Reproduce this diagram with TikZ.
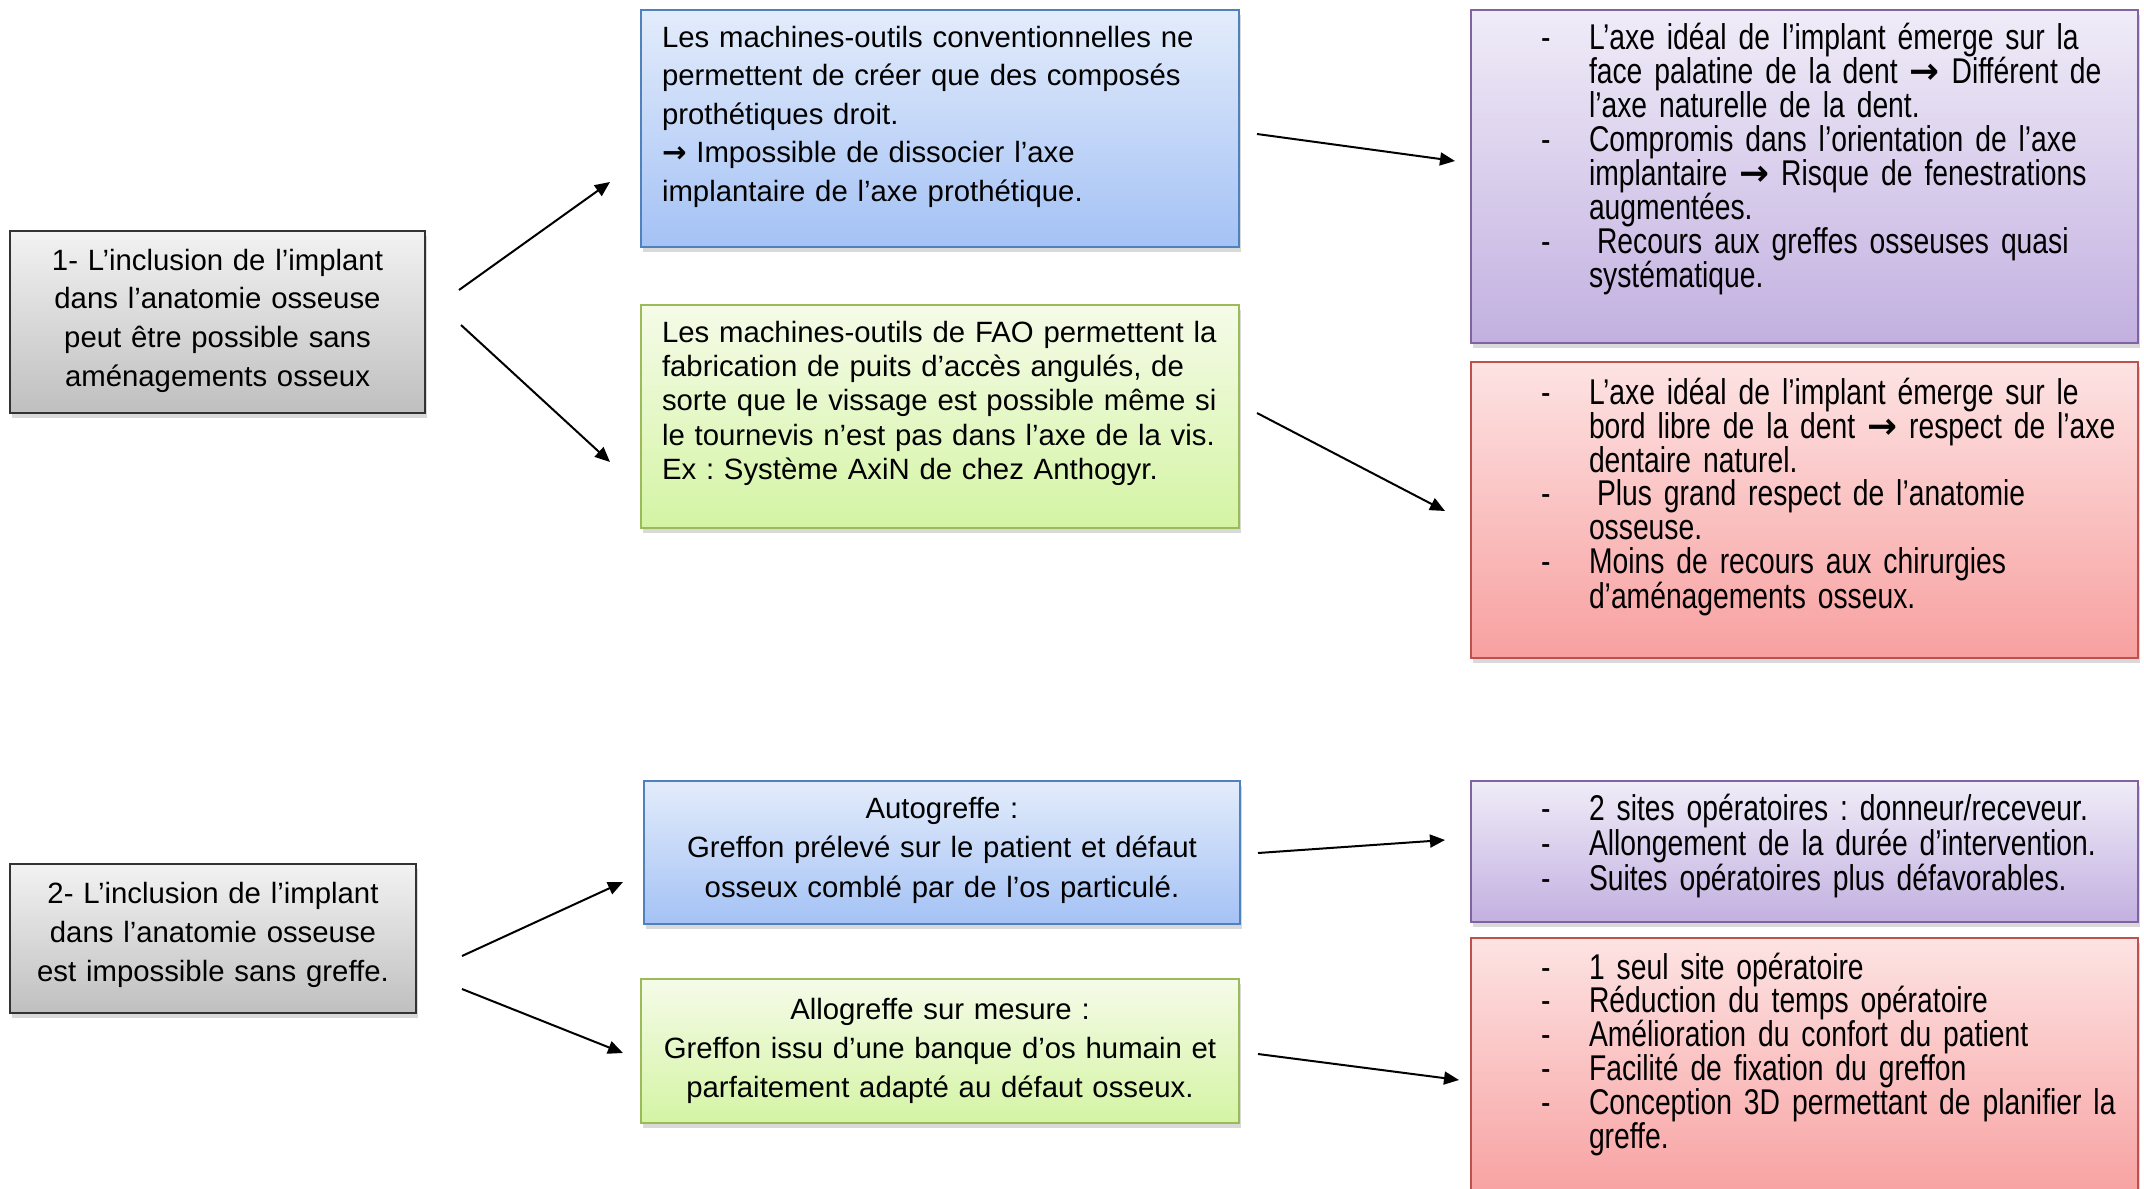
\documentclass[tikz,border=0pt]{standalone}
\usepackage{fontspec}
\setmainfont{Liberation Sans}
\newfontfamily\narrowfont{Liberation Sans}[FakeStretch=0.79]
\newfontfamily\symfont{DejaVu Sans}
\usetikzlibrary{arrows.meta,shadows}
\newcommand\dsh{\leavevmode\llap{\makebox[24pt][l]{-}}}
\newcommand\rarr{{\symfont\bfseries →}}
\frenchspacing
\begin{document}
\begin{tikzpicture}[x=0.5pt,y=-0.5pt,
  box/.style={draw, line width=1pt, inner sep=0pt, outer sep=0pt, anchor=north west,
     drop shadow={opacity=0.3, shadow xshift=0.8pt, shadow yshift=-2.5pt}},
  greybox/.style={box, draw=black!80, top color=black!5, bottom color=black!25},
  bluebox/.style={box, draw=blueB, top color=blueT, bottom color=blueD},
  greenbox/.style={box, draw=greenB, top color=greenT, bottom color=greenD},
  purplebox/.style={box, draw=purpB, top color=purpT, bottom color=purpD},
  redbox/.style={box, draw=redB, top color=redT, bottom color=redD},
  txt/.style={inner sep=0pt, outer sep=0pt, align=left, anchor=base west, text width=330pt},
  ctxt/.style={inner sep=0pt, outer sep=0pt, align=center, anchor=base, text width=320pt},
  ntxt/.style={txt, font=\narrowfont\fontsize{17.9pt}{17pt}\selectfont},
  arr/.style={-{Triangle[length=7.5pt,width=6.5pt]}, line width=1pt}
]
\definecolor{blueB}{HTML}{4F81BD}\definecolor{blueT}{HTML}{E3ECFB}\definecolor{blueD}{HTML}{A4C2F5}
\definecolor{greenB}{HTML}{9BBB59}\definecolor{greenT}{HTML}{F5FBE8}\definecolor{greenD}{HTML}{D4F4A4}
\definecolor{purpB}{HTML}{8064A2}\definecolor{purpT}{HTML}{F0ECF8}\definecolor{purpD}{HTML}{C2B0E0}
\definecolor{redB}{HTML}{C0504D}\definecolor{redT}{HTML}{FDE3E3}\definecolor{redD}{HTML}{F8A0A0}
\useasboundingbox (0,0) rectangle (2144,1189);

% boxes
\node[greybox, minimum width=207.5pt, minimum height=91pt] (g1) at (10,231) {};
\node[bluebox, minimum width=299pt, minimum height=118.5pt] (b1) at (641,10) {};
\node[greenbox, minimum width=299pt, minimum height=111.5pt] (gr1) at (641,305) {};
\node[purplebox, minimum width=333.5pt, minimum height=166.5pt] (p1) at (1471,10) {};
\node[redbox, minimum width=333.5pt, minimum height=148pt] (r1) at (1471,362) {};
\node[greybox, minimum width=203pt, minimum height=74.5pt] (g2) at (10,864) {};
\node[bluebox, minimum width=298pt, minimum height=71.5pt] (b2) at (644,781) {};
\node[greenbox, minimum width=299pt, minimum height=72pt] (gr2) at (641,979) {};
\node[purplebox, minimum width=333.5pt, minimum height=70.5pt] (p2) at (1471,781) {};
\node[redbox, minimum width=333.5pt, minimum height=131pt] (r2) at (1471,938) {};

% texts
\node[ctxt, font=\fontsize{14.67pt}{19.35pt}\selectfont] (tg1) at (217.5,270)
  {1- L’inclusion de l’implant\\dans l’anatomie osseuse\\peut être possible sans\\aménagements osseux};
\node[txt, font=\fontsize{14.67pt}{19.3pt}\selectfont] (tb1) at (662,47)
  {Les machines-outils conventionnelles ne\\permettent de créer que des composés\\prothétiques droit.\\\rarr{} Impossible de dissocier l’axe\\implantaire de l’axe prothétique.};
\node[txt, font=\fontsize{14.67pt}{17.1pt}\selectfont] (tgr1) at (662,342.5)
  {Les machines-outils de FAO permettent la\\fabrication de puits d’accès angulés, de\\sorte que le vissage est possible même si\\le tournevis n’est pas dans l’axe de la vis.\\Ex : Système AxiN de chez Anthogyr.};
\node[ntxt] (tp1) at (1589,49)
  {\dsh L’axe idéal de l’implant émerge sur la\\face palatine de la dent \rarr{} Différent de\\l’axe naturelle de la dent.\\\dsh Compromis dans l’orientation de l’axe\\implantaire \rarr{} Risque de fenestrations\\augmentées.\\\dsh\hspace*{4pt}Recours aux greffes osseuses quasi\\systématique.};
\node[ntxt, font=\narrowfont\fontsize{17.9pt}{16.85pt}\selectfont] (tr1) at (1589,404.7)
  {\dsh L’axe idéal de l’implant émerge sur le\\bord libre de la dent \rarr{} respect de l’axe\\dentaire naturel.\\\dsh\hspace*{4pt}Plus grand respect de l’anatomie\\osseuse.\\\dsh Moins de recours aux chirurgies\\d’aménagements osseux.};
\node[ctxt, font=\fontsize{14.67pt}{19.5pt}\selectfont] (tg2) at (213,903)
  {2- L’inclusion de l’implant\\dans l’anatomie osseuse\\est impossible sans greffe.};
\node[ctxt, font=\fontsize{14.67pt}{19.8pt}\selectfont] (tb2) at (942,818.3)
  {Autogreffe :\\Greffon prélevé sur le patient et défaut\\osseux comblé par de l’os particulé.};
\node[ctxt, font=\fontsize{14.67pt}{19.5pt}\selectfont] (tgr2) at (940,1019.3)
  {Allogreffe sur mesure :\\Greffon issu d’une banque d’os humain et\\parfaitement adapté au défaut osseux.};
\node[ntxt, font=\narrowfont\fontsize{17.9pt}{17.45pt}\selectfont] (tp2) at (1589,820.4)
  {\dsh 2 sites opératoires : donneur/receveur.\\\dsh Allongement de la durée d’intervention.\\\dsh Suites opératoires plus défavorables.};
\node[ntxt, font=\narrowfont\fontsize{17.9pt}{16.95pt}\selectfont] (tr2) at (1589,979)
  {\dsh 1 seul site opératoire\\\dsh Réduction du temps opératoire\\\dsh Amélioration du confort du patient\\\dsh Facilité de fixation du greffon\\\dsh Conception 3D permettant de planifier la\\greffe.};

% arrow end points
\coordinate (a1s) at (459,290);  \coordinate (a1e) at (610,182);
\coordinate (a2s) at (461,325);  \coordinate (a2e) at (610,462);
\coordinate (a3s) at (1257,134); \coordinate (a3e) at (1455,161);
\coordinate (a4s) at (1257,413); \coordinate (a4e) at (1445,511);
\coordinate (a5s) at (462,956);  \coordinate (a5e) at (623,882);
\coordinate (a6s) at (462,989);  \coordinate (a6e) at (623,1053);
\coordinate (a7s) at (1258,853); \coordinate (a7e) at (1445,840);
\coordinate (a8s) at (1258,1054);\coordinate (a8e) at (1459,1080);
\draw[arr] (a1s) -- (a1e);
\draw[arr] (a2s) -- (a2e);
\draw[arr] (a3s) -- (a3e);
\draw[arr] (a4s) -- (a4e);
\draw[arr] (a5s) -- (a5e);
\draw[arr] (a6s) -- (a6e);
\draw[arr] (a7s) -- (a7e);
\draw[arr] (a8s) -- (a8e);
\end{tikzpicture}
\end{document}
